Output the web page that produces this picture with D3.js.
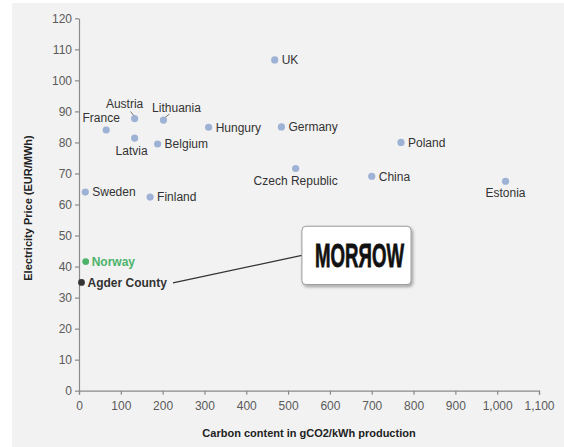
<!DOCTYPE html>
<html>
<head>
<meta charset="utf-8">
<script src="https://cdn.jsdelivr.net/npm/d3@7"></script>
<style>
  body { margin: 0; background: #fff; }
  text { font-family: "Liberation Sans", Arial, sans-serif; }
</style>
</head>
<body>
<div id="chart"></div>
<script>
// country data
var countries = ["UK", "Austria", "Lithuania", "France", "Latvia", "Belgium", "Hungury", "Germany",
                 "Poland", "Czech Republic", "China", "Estonia", "Sweden", "Finland"];
var carbon = [468, 133, 202, 65, 133, 188, 310, 484, 770, 518, 700, 1020, 15, 170];
var price = [106.6, 87.7, 87.2, 84.0, 81.4, 79.5, 84.9, 85.0, 80.0, 71.6, 69.1, 67.5, 64.0, 62.4];

// highlighted points
var highlights = ["Norway", "Agder County"];
var highlightCarbon = [16, 6];
var highlightPrice = [41.6, 34.9];

var xTicks = [0, 100, 200, 300, 400, 500, 600, 700, 800, 900, 1000, 1100];
var yTicks = [0, 10, 20, 30, 40, 50, 60, 70, 80, 90, 100, 110, 120];

// label placement relative to dot (px)
var labelPlace = {
    "Austria": {dx: -10, dy: -11, anchor: "middle", leader: [[-4, -7], [-1, -3]]},
    "Lithuania": {dx: 13, dy: -8, anchor: "middle", leader: [[2, -3], [6, -6]]},
    "France": {dx: -5, dy: -8, anchor: "middle"},
    "Latvia": {dx: -3, dy: 17, anchor: "middle"},
    "Czech Republic": {dx: 0, dy: 16, anchor: "middle"},
    "Estonia": {dx: 0, dy: 16, anchor: "middle"}
};

var width = 564, height = 447;
var svg = d3.select("#chart").append("svg")
    .attr("width", width)
    .attr("height", height);

// panel background
svg.append("rect")
    .attr("x", 12).attr("y", 3)
    .attr("width", width - 12).attr("height", height - 3)
    .attr("fill", "#f2f2f2");

var xScale = d3.scaleLinear().domain([0, 1100]).range([79, 539]);
var yScale = d3.scaleLinear().domain([0, 120]).range([390.7, 18.3]);

// axes
var xAxis = svg.append("g")
    .attr("transform", "translate(0," + yScale(0) + ")")
    .call(d3.axisBottom(xScale).tickValues(xTicks).tickFormat(d3.format(",")).tickSize(4).tickSizeOuter(4));
var yAxis = svg.append("g")
    .attr("transform", "translate(" + xScale(0) + ",0)")
    .call(d3.axisLeft(yScale).tickValues(yTicks).tickSize(4).tickSizeOuter(0));

[xAxis, yAxis].forEach(function(ax) {
    ax.select(".domain").attr("stroke", "#8a8a8a").attr("stroke-width", 1.2);
    ax.selectAll(".tick line").attr("stroke", "#8a8a8a").attr("stroke-width", 1.2);
    ax.selectAll(".tick text")
        .attr("fill", "#5a5a5a")
        .attr("font-size", 12)
        .attr("font-family", "Liberation Sans, Arial, sans-serif");
});
xAxis.selectAll(".tick text").attr("dy", "1.05em");
yAxis.selectAll(".tick text").attr("x", -7);

// axis titles
svg.append("text")
    .attr("x", 309).attr("y", 437)
    .attr("text-anchor", "middle")
    .attr("font-size", 11).attr("font-weight", "bold")
    .attr("fill", "#222")
    .text("Carbon content in gCO2/kWh production");

svg.append("text")
    .attr("transform", "translate(32,208) rotate(-90)")
    .attr("text-anchor", "middle")
    .attr("font-size", 11).attr("font-weight", "bold")
    .attr("fill", "#222")
    .text("Electricity Price (EUR/MWh)");

// country dots and labels
var data = countries.map(function(c, i) {
    return {name: c, x: carbon[i], y: price[i]};
});

var g = svg.append("g");
g.selectAll("circle")
    .data(data)
    .enter()
    .append("circle")
    .attr("cx", d => xScale(d.x))
    .attr("cy", d => yScale(d.y))
    .attr("r", 3.6)
    .attr("fill", "#9db2d4");

data.forEach(function(d) {
    var cx = xScale(d.x), cy = yScale(d.y);
    var p = labelPlace[d.name] || {dx: 7, dy: 4.3, anchor: "start"};
    g.append("text")
        .attr("x", cx + p.dx)
        .attr("y", cy + p.dy)
        .attr("text-anchor", p.anchor)
        .attr("font-size", 12)
        .attr("fill", "#333")
        .text(d.name);
    if (p.leader) {
        g.append("line")
            .attr("x1", cx + p.leader[0][0]).attr("y1", cy + p.leader[0][1])
            .attr("x2", cx + p.leader[1][0]).attr("y2", cy + p.leader[1][1])
            .attr("stroke", "#555").attr("stroke-width", 0.8);
    }
});

// Norway and Agder County
var hlColors = ["#4cb36a", "#333333"];
highlights.forEach(function(name, i) {
    var cx = xScale(highlightCarbon[i]), cy = yScale(highlightPrice[i]);
    svg.append("circle")
        .attr("cx", cx).attr("cy", cy).attr("r", 3.4)
        .attr("fill", hlColors[i]);
    svg.append("text")
        .attr("x", cx + 6).attr("y", cy + 4.3)
        .attr("font-size", 12).attr("font-weight", "bold")
        .attr("fill", hlColors[i])
        .text(name);
});

// callout box with logo
var boxX0 = xScale(533), boxX1 = xScale(794);
var boxY0 = yScale(53), boxY1 = yScale(34.2);

svg.append("line")
    .attr("x1", 173).attr("y1", yScale(34.9) + 0.5)
    .attr("x2", boxX0).attr("y2", yScale(43.6))
    .attr("stroke", "#333").attr("stroke-width", 1.3);

var defs = svg.append("defs");
var f = defs.append("filter").attr("id", "shadow").attr("x", "-10%").attr("y", "-10%")
    .attr("width", "130%").attr("height", "140%");
f.append("feDropShadow").attr("dx", 1.5).attr("dy", 2).attr("stdDeviation", 1.5)
    .attr("flood-color", "#000").attr("flood-opacity", 0.35);

svg.append("rect")
    .attr("x", boxX0).attr("y", boxY0)
    .attr("width", boxX1 - boxX0).attr("height", boxY1 - boxY0)
    .attr("rx", 4)
    .attr("fill", "#fff")
    .attr("stroke", "#9a9a9a").attr("stroke-width", 1)
    .attr("filter", "url(#shadow)");

svg.append("text")
    .attr("x", 315).attr("y", 267)
    .attr("font-family", "Liberation Sans Narrow, DejaVu Sans Condensed, sans-serif")
    .attr("font-weight", "bold")
    .attr("font-size", 34)
    .attr("textLength", 89)
    .attr("lengthAdjust", "spacingAndGlyphs")
    .attr("fill", "#111")
    .attr("stroke", "#111")
    .attr("stroke-width", 0.8)
    .text("MORЯOW");
</script>
</body>
</html>
